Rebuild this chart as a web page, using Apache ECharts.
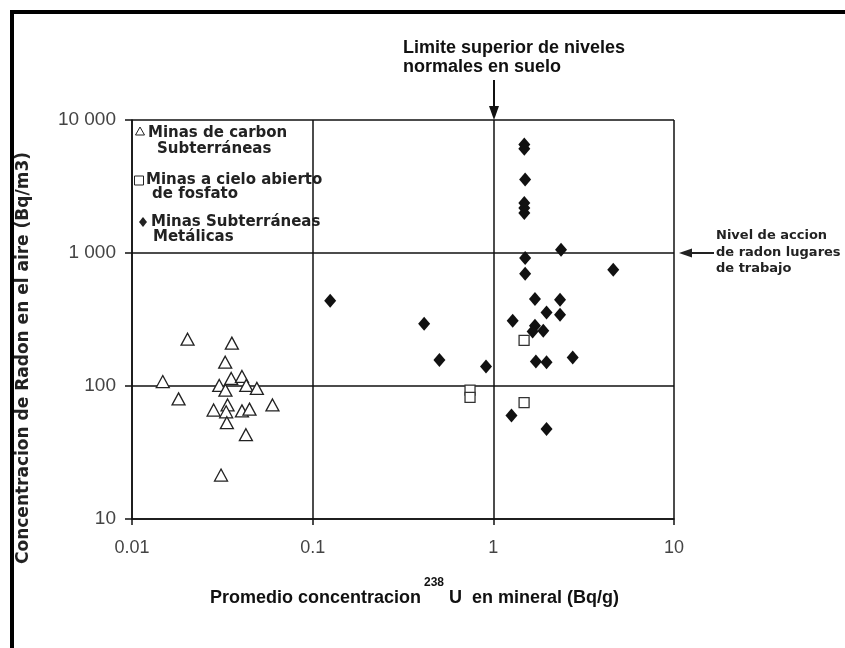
<!DOCTYPE html>
<html>
<head>
<meta charset="utf-8">
<script src="https://cdn.jsdelivr.net/npm/echarts@6/dist/echarts.min.js"></script>
<style>
  html, body { margin: 0; padding: 0; background: #fff; }
  #chart { width: 845px; height: 648px; }
</style>
</head>
<body>
<div id="chart"></div>
<script>
// Minas de carbon subterráneas (hollow triangles)
const carbonU = [0.0203, 0.0357, 0.0328, 0.0148, 0.0354, 0.0406, 0.0304, 0.0329, 0.0429, 0.0491,
                 0.0181, 0.0599, 0.0283, 0.0338, 0.0332, 0.0406, 0.0447, 0.0335, 0.0427, 0.0311];
const carbonRn = [225, 210, 151, 108, 114, 118, 101, 93, 101, 96,
                  80, 72, 66, 72, 64, 65, 67, 53, 43, 21.4];

// Minas a cielo abierto de fosfato (hollow squares)
const fosfatoU = [1.48, 0.743, 0.743, 1.48];
const fosfatoRn = [220, 93, 82, 75];

// Minas subterráneas metálicas (filled diamonds)
const metalU = [0.125, 0.414, 0.503, 0.911, 1.484, 1.484, 1.50, 1.484, 1.484, 1.484,
                2.37, 1.50, 1.50, 4.61, 1.70, 2.34, 1.97, 2.34, 1.28, 1.70,
                1.65, 1.89, 1.72, 1.97, 2.75, 1.26, 1.97];
const metalRn = [437, 294, 157, 140, 6540, 6070, 3565, 2380, 2180, 2000,
                 1059, 917, 698, 748, 450, 445, 357, 343, 310, 284,
                 257, 260, 153, 151, 164, 60, 47.5];

// Tick labels of both log axes
const xTickLabels = ['0.01', '0.1', '1', '10'];
const yTickLabels = ['10', '100', '1 000', '10 000'];

const pairs = (xs, ys) => xs.map((x, i) => [x, ys[i]]);

const labelFont = '"DejaVu Sans", sans-serif';
const arialFont = '"Liberation Sans", Arial, sans-serif';

const chart = echarts.init(document.getElementById('chart'), null, { renderer: 'canvas' });

const option = {
  backgroundColor: '#ffffff',
  animation: false,
  grid: { left: 132, right: 171, top: 120, bottom: 129, containLabel: false },
  xAxis: {
    type: 'log', logBase: 10, min: 0.01, max: 10,
    axisLine: { show: true, lineStyle: { color: '#111', width: 1.5 } },
    axisTick: { show: true, length: 6, lineStyle: { color: '#111', width: 1.5 } },
    splitLine: { show: true, lineStyle: { color: '#111', width: 1.5 } },
    minorTick: { show: false },
    axisLabel: {
      margin: 20, color: '#444', fontSize: 18, fontFamily: arialFont,
      formatter: (v, i) => xTickLabels[i]
    }
  },
  yAxis: {
    type: 'log', logBase: 10, min: 10, max: 10000,
    axisLine: { show: true, lineStyle: { color: '#111', width: 1.5 } },
    axisTick: { show: true, length: 7, lineStyle: { color: '#111', width: 1.5 } },
    splitLine: { show: true, lineStyle: { color: '#111', width: 1.5 } },
    axisLabel: {
      margin: 16, color: '#444', fontSize: 19, fontFamily: arialFont,
      formatter: (v, i) => yTickLabels[i]
    }
  },
  series: [
    {
      name: 'Minas de carbon Subterráneas',
      type: 'scatter', symbol: 'triangle', symbolSize: [13, 12],
      itemStyle: { color: '#ffffff', borderColor: '#222', borderWidth: 1.3, opacity: 1 },
      data: pairs(carbonU, carbonRn)
    },
    {
      name: 'Minas a cielo abierto de fosfato',
      type: 'scatter', symbol: 'rect', symbolSize: 10,
      itemStyle: { color: '#ffffff', borderColor: '#333', borderWidth: 1.3, opacity: 1 },
      data: pairs(fosfatoU, fosfatoRn)
    },
    {
      name: 'Minas Subterráneas Metálicas',
      type: 'scatter', symbol: 'diamond', symbolSize: [12, 14],
      itemStyle: { color: '#111', opacity: 1 },
      data: pairs(metalU, metalRn)
    }
  ],
  graphic: [
    // outer frame (top and left edges)
    { type: 'rect', shape: { x: 10, y: 10, width: 835, height: 4 }, style: { fill: '#000' } },
    { type: 'rect', shape: { x: 10, y: 10, width: 4, height: 638 }, style: { fill: '#000' } },

    // legend inside the plot
    { type: 'polygon', shape: { points: [[140, 127], [135.5, 135], [144.5, 135]] },
      style: { fill: 'none', stroke: '#222', lineWidth: 1 } },
    { type: 'text', x: 148, y: 133, style: { text: 'Minas de carbon', font: 'bold 15px ' + labelFont, fill: '#222', verticalAlign: 'middle' } },
    { type: 'text', x: 157, y: 149, style: { text: 'Subterráneas', font: 'bold 15px ' + labelFont, fill: '#222', verticalAlign: 'middle' } },
    { type: 'rect', shape: { x: 134.5, y: 176, width: 9, height: 9 },
      style: { fill: 'none', stroke: '#222', lineWidth: 1 } },
    { type: 'text', x: 146, y: 180, style: { text: 'Minas a cielo abierto', font: 'bold 15px ' + labelFont, fill: '#222', verticalAlign: 'middle' } },
    { type: 'text', x: 152, y: 194, style: { text: 'de fosfato', font: 'bold 15px ' + labelFont, fill: '#222', verticalAlign: 'middle' } },
    { type: 'polygon', shape: { points: [[143, 217], [147, 222], [143, 227], [139, 222]] },
      style: { fill: '#222' } },
    { type: 'text', x: 151, y: 222, style: { text: 'Minas Subterráneas', font: 'bold 15px ' + labelFont, fill: '#222', verticalAlign: 'middle' } },
    { type: 'text', x: 153, y: 237, style: { text: 'Metálicas', font: 'bold 15px ' + labelFont, fill: '#222', verticalAlign: 'middle' } },

    // note above the plot with downward arrow
    { type: 'text', x: 403, y: 48, style: { text: 'Limite superior de niveles', font: 'bold 18px ' + arialFont, fill: '#111', verticalAlign: 'middle' } },
    { type: 'text', x: 403, y: 67, style: { text: 'normales en suelo', font: 'bold 18px ' + arialFont, fill: '#111', verticalAlign: 'middle' } },
    { type: 'line', shape: { x1: 494, y1: 80, x2: 494, y2: 108 }, style: { stroke: '#111', lineWidth: 2 } },
    { type: 'polygon', shape: { points: [[489, 106], [499, 106], [494, 120]] }, style: { fill: '#111' } },

    // note at the right with leftward arrow
    { type: 'text', x: 716, y: 236, style: { text: 'Nivel de accion', font: 'bold 13px ' + labelFont, fill: '#222', verticalAlign: 'middle' } },
    { type: 'text', x: 716, y: 253, style: { text: 'de radon lugares', font: 'bold 13px ' + labelFont, fill: '#222', verticalAlign: 'middle' } },
    { type: 'text', x: 716, y: 269, style: { text: 'de trabajo', font: 'bold 13px ' + labelFont, fill: '#222', verticalAlign: 'middle' } },
    { type: 'line', shape: { x1: 690, y1: 253, x2: 714, y2: 253 }, style: { stroke: '#222', lineWidth: 2 } },
    { type: 'polygon', shape: { points: [[679, 253], [692, 248.5], [692, 257.5]] }, style: { fill: '#222' } },

    // axis titles
    { type: 'text', x: 24, y: 358, rotation: Math.PI / 2,
      style: { text: 'Concentracion de Radon en el aire (Bq/m3)', font: 'bold 17px ' + labelFont, fill: '#222', align: 'center', verticalAlign: 'middle' } },
    { type: 'text', x: 421, y: 598, style: { text: 'Promedio concentracion', font: 'bold 18px ' + arialFont, fill: '#111', align: 'right', verticalAlign: 'middle' } },
    { type: 'text', x: 424, y: 583, style: { text: '238', font: 'bold 12px ' + arialFont, fill: '#111', verticalAlign: 'middle' } },
    { type: 'text', x: 449, y: 598, style: { text: 'U  en mineral (Bq/g)', font: 'bold 18px ' + arialFont, fill: '#111', verticalAlign: 'middle' } }
  ]
};

chart.setOption(option);
</script>
</body>
</html>
